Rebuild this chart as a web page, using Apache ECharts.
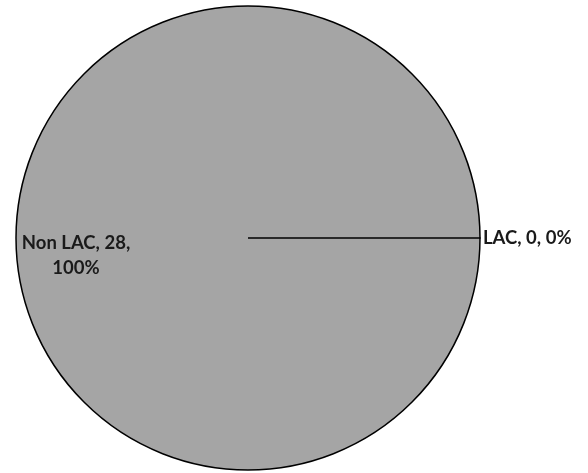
<!DOCTYPE html>
<html>
<head>
<meta charset="utf-8">
<script src="https://cdn.jsdelivr.net/npm/echarts@6/dist/echarts.min.js"></script>
<style>
html,body{margin:0;padding:0;background:#fff;}
#chart{width:588px;height:473px;}
</style>
</head>
<body>
<div id="chart"></div>
<script>
const categories = ['LAC', 'Non LAC'];
const values = [0, 28];

const total = values.reduce((a, b) => a + b, 0);
// cumulative boundary after the first slice (slice border drawn by Excel)
const boundary = values[0];

const chart = echarts.init(document.getElementById('chart'));
const labelFont = {
  fontFamily: 'Lato',
  fontWeight: 'bold',
  fontSize: 18.5,
  color: '#1a1a1a',
  lineHeight: 25
};
chart.setOption({
  animation: false,
  polar: { center: [248, 238], radius: 232 },
  angleAxis: { type: 'value', min: 0, max: total, startAngle: 0, clockwise: true, show: false },
  radiusAxis: { type: 'value', min: 0, max: 1, show: false },
  series: [
    {
      type: 'pie',
      center: [248, 238],
      radius: 232,
      startAngle: 0,
      clockwise: true,
      percentPrecision: 0,
      avoidLabelOverlap: false,
      silent: true,
      itemStyle: { color: '#a5a5a5', borderColor: '#000', borderWidth: 1.5 },
      labelLine: { show: false, length: 0, length2: 0 },
      data: [
        {
          name: categories[0], value: values[0],
          label: Object.assign({ position: 'outside', formatter: '{b}, {c}, {d}%' }, labelFont)
        },
        {
          name: categories[1], value: values[1],
          label: Object.assign({ position: 'inside', formatter: '{b}, {c},\n{d}%', align: 'center' }, labelFont)
        }
      ],
      labelLayout: function (p) {
        if (p.dataIndex === 1) return { dx: -53, dy: 18 };
        return { dx: -2 };
      }
    },
    {
      type: 'line',
      coordinateSystem: 'polar',
      silent: true,
      symbol: 'none',
      z: 5,
      lineStyle: { color: '#000', width: 1.5 },
      data: [[0, boundary], [1, boundary]]
    }
  ]
});
</script>
</body>
</html>
